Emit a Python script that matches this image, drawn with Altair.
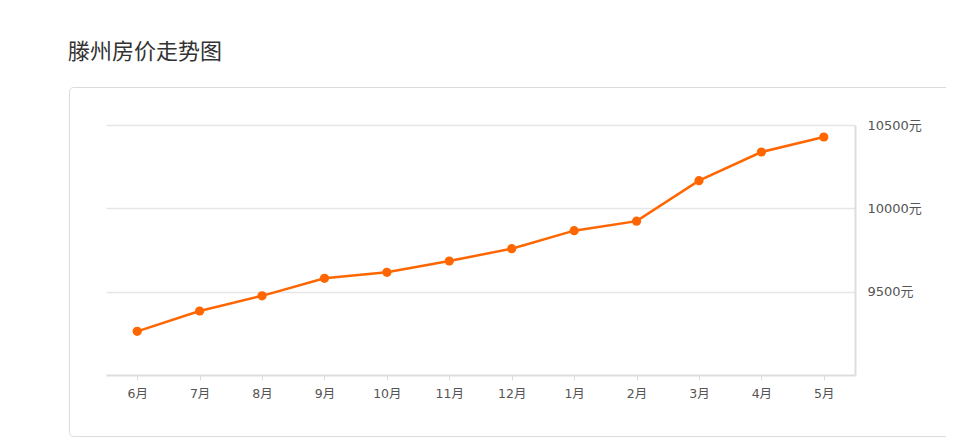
import altair as alt
import pandas as pd

months = ["6月", "7月", "8月", "9月", "10月", "11月", "12月", "1月", "2月", "3月", "4月", "5月"]
prices = [9262, 9384, 9475, 9580, 9616, 9684, 9758, 9866, 9923, 10166, 10338, 10428]
y_ticks = [9500, 10000, 10500]
y_domain = [9000, 10500]
title_text = "滕州房价走势图"

ORANGE = "#ff6600"
FONT = "Noto Sans CJK SC"
LABEL_FONT = "DejaVu Sans, Noto Sans CJK SC"

W, H = 749, 250
PAD_L, PAD_T = 98, 117
PAD_R = 938 - PAD_L - W
PAD_B = 430 - PAD_T - H

df = pd.DataFrame({"month": months, "price": prices})

x_enc = alt.X(
    "month:N",
    sort=months,
    scale=alt.Scale(type="point", padding=0.5),
    axis=alt.Axis(
        title=None,
        labelAngle=0,
        labelFont=LABEL_FONT,
        labelFontSize=12.5,
        labelColor="#555",
        labelPadding=7,
        tickSize=5,
        tickColor="#ddd",
        tickWidth=1,
        domainColor="#ddd",
        domainWidth=2,
        grid=False,
    ),
)
y_enc = alt.Y(
    "price:Q",
    scale=alt.Scale(domain=y_domain, nice=False, zero=False),
    axis=alt.Axis(
        title=None,
        orient="right",
        values=y_ticks,
        labelExpr="datum.value + '元'",
        labelFont=LABEL_FONT,
        labelFontSize=13,
        labelColor="#555",
        labelPadding=12,
        ticks=False,
        domainColor="#ddd",
        domainWidth=2,
        grid=True,
        gridColor="#e6e6e6",
        gridWidth=1.5,
    ),
)

base = alt.Chart(df).encode(x=x_enc, y=y_enc)
line = base.mark_line(color=ORANGE, strokeWidth=2.5)
pts = base.mark_circle(color=ORANGE, size=85, opacity=1)

one = pd.DataFrame({"k": [0]})
box = alt.Chart(one).mark_rect(
    fillOpacity=0, stroke="#dcdcdc", strokeWidth=1, cornerRadius=4
).encode(
    x=alt.value(-36.5),
    x2=alt.value(W + 200),
    y=alt.value(-37.5),
    y2=alt.value(311.5),
)
title = alt.Chart(one).mark_text(
    align="left", baseline="middle", fontSize=22, font=FONT, color="#333"
).encode(
    x=alt.value(-38),
    y=alt.value(-73),
    text=alt.value(title_text),
)

chart = alt.layer(box, title, line, pts).properties(
    width=W,
    height=H,
    background="white",
    autosize=alt.AutoSizeParams(type="none"),
    padding={"left": PAD_L, "top": PAD_T, "right": PAD_R, "bottom": PAD_B},
).configure_view(stroke=None)

chart.save("out.html", embed_options={"renderer": "svg", "actions": False})
